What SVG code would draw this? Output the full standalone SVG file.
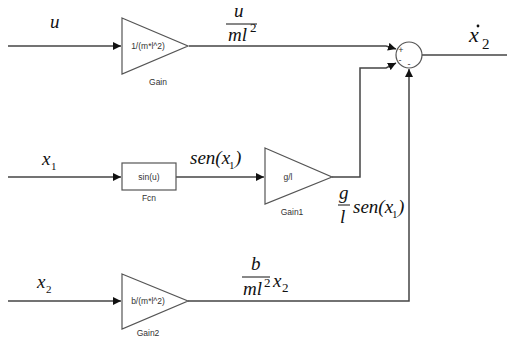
<svg xmlns="http://www.w3.org/2000/svg" width="507" height="339" viewBox="0 0 507 339">
<style>
.blk{fill:#fff;stroke:#555;stroke-width:1.2}
.ln{fill:none;stroke:#444;stroke-width:1.5}
.in{font-family:"Liberation Sans",Arial,sans-serif;font-size:8.5px;fill:#333;text-anchor:middle}
.m{font-family:'Liberation Serif',serif;font-style:italic;font-size:19px;fill:#111}
.n{font-family:'Liberation Serif',serif;font-size:13px;fill:#111}
.fr{stroke:#111;stroke-width:1}
</style>
<defs>
<marker id="ah" markerUnits="userSpaceOnUse" markerWidth="9" markerHeight="8" refX="8" refY="4" orient="auto">
<path d="M0,0 L8,4 L0,8 z" fill="#111"/>
</marker>
</defs>
<g id="connectors">
<path class="ln" d="M8,46 H121" marker-end="url(#ah)"/>
<path class="ln" d="M189,46 H386 L396,49" marker-end="url(#ah)"/>
<path class="ln" d="M8,177 H121" marker-end="url(#ah)"/>
<path class="ln" d="M176,177 H264" marker-end="url(#ah)"/>
<path class="ln" d="M332,177 H360 V68 H386 L396,63" marker-end="url(#ah)"/>
<path class="ln" d="M8,301 H121" marker-end="url(#ah)"/>
<path class="ln" d="M188,301 H409 V69" marker-end="url(#ah)"/>
<path class="ln" d="M422,55 H507"/>
</g>
<g id="gain">
<polygon class="blk" points="122,18 188,46 122,74"/>
<text class="in" x="148" y="49">1/(m*l^2)</text>
<text class="in" x="158" y="85">Gain</text>
</g>
<g id="fcn">
<rect class="blk" x="122" y="163" width="54" height="27"/>
<text class="in" x="149" y="180">sin(u)</text>
<text class="in" x="149" y="201">Fcn</text>
</g>
<g id="gain1">
<polygon class="blk" points="265,148 332,177 265,204"/>
<text class="in" x="288" y="180">g/l</text>
<text class="in" x="292" y="215">Gain1</text>
</g>
<g id="gain2">
<polygon class="blk" points="122,274 188,301 122,329"/>
<text class="in" x="148" y="304">b/(m*l^2)</text>
<text class="in" x="148" y="336">Gain2</text>
</g>
<g id="sum">
<circle class="blk" cx="409" cy="55" r="13"/>
<text class="in" x="401" y="53" style="font-size:9px">+</text>
<text class="in" x="400" y="63" style="font-size:9px">-</text>
<text class="in" x="409" y="67" style="font-size:9px">-</text>
</g>
<g id="labels">
<text class="m" x="50" y="28">u</text>
<text class="m" x="234" y="17">u</text>
<line class="fr" x1="226" y1="24" x2="257" y2="24"/>
<text class="m" x="228" y="41">ml</text>
<text class="n" x="250" y="32">2</text>
<text class="m" x="469" y="42" style="font-size:22px">x</text>
<circle cx="478" cy="26" r="1.4" fill="#111"/>
<text class="n" x="482" y="49" style="font-size:15px">2</text>
<text class="m" x="42" y="165">x</text>
<text class="n" x="51" y="170" style="font-size:11px">1</text>
<text class="m" x="190" y="164">sen(x</text>
<text class="n" x="229" y="169" style="font-size:11px">1</text>
<text class="m" x="235" y="164">)</text>
<text class="m" x="339" y="199">g</text>
<line class="fr" x1="338" y1="205" x2="350" y2="205"/>
<text class="m" x="340" y="223">l</text>
<text class="m" x="353" y="213">sen(x</text>
<text class="n" x="392" y="218" style="font-size:11px">1</text>
<text class="m" x="398" y="213">)</text>
<text class="m" x="37" y="288">x</text>
<text class="n" x="46" y="293" style="font-size:11px">2</text>
<text class="m" x="251" y="270">b</text>
<line class="fr" x1="242" y1="277" x2="270" y2="277"/>
<text class="m" x="243" y="295">ml</text>
<text class="n" x="264" y="287">2</text>
<text class="m" x="273" y="287">x</text>
<text class="n" x="282" y="292">2</text>
</g>
</svg>
